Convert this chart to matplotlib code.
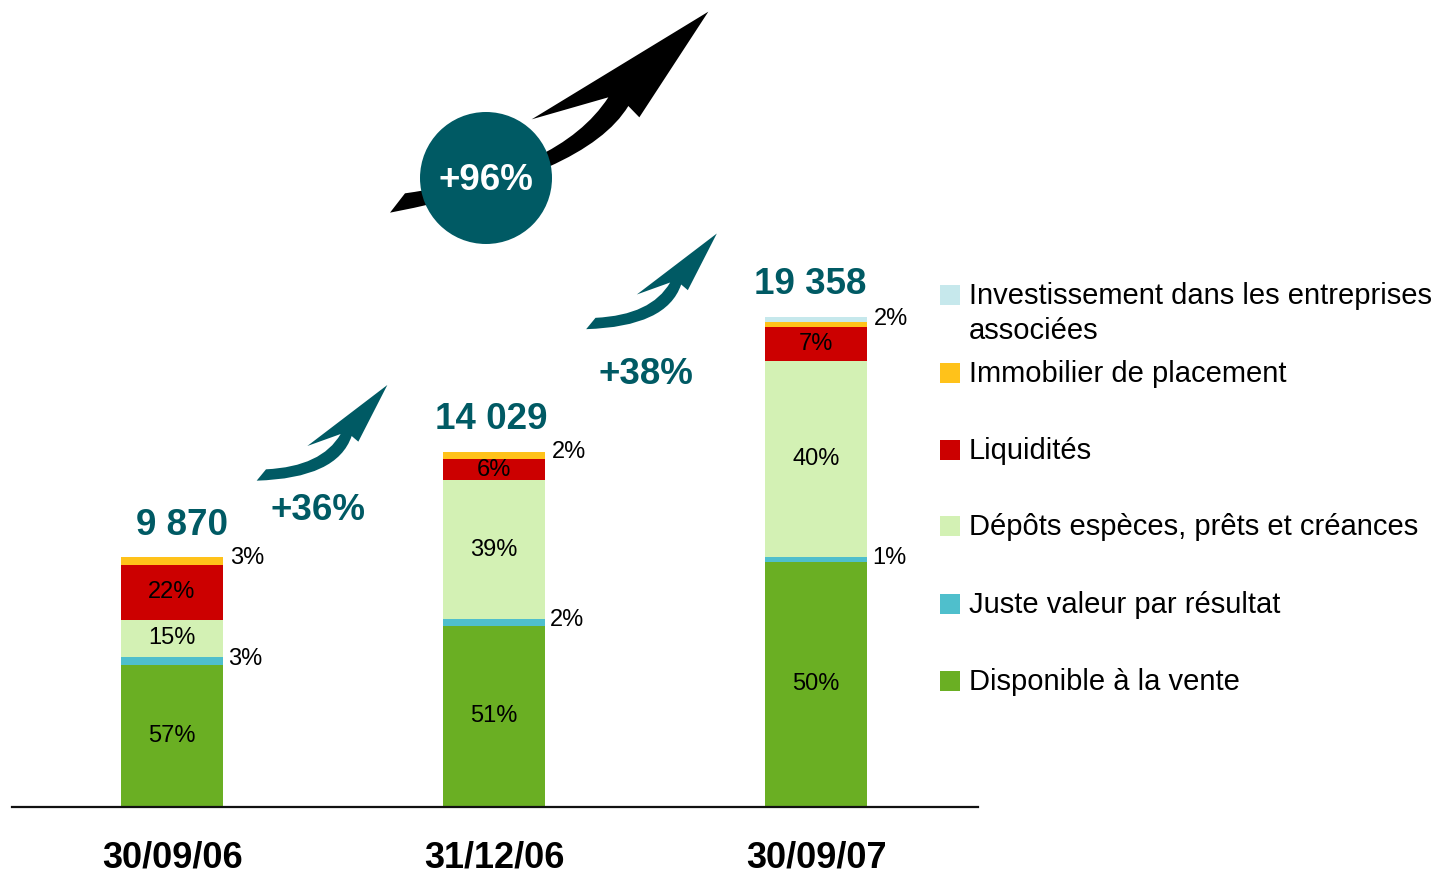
import numpy as np
import matplotlib
matplotlib.use('Agg')
import matplotlib.pyplot as plt
from matplotlib import font_manager
from matplotlib.patches import Circle, Rectangle, PathPatch
from matplotlib.path import Path

plt.rcParams['font.family'] = ['Liberation Sans', 'DejaVu Sans']

# Data
dates = ['30/09/06', '31/12/06', '30/09/07']
totals = [9870, 14029, 19358]
categories = ['Disponible à la vente', 'Juste valeur par résultat',
              'Dépôts espèces, prêts et créances', 'Liquidités',
              'Immobilier de placement',
              'Investissement dans les entreprises\nassociées']
disponible = [57, 51, 50]
juste_valeur = [3, 2, 1]
depots = [15, 39, 40]
liquidites = [22, 6, 7]
immobilier = [3, 2, 1]
investissement = [0, 0, 1]
growth_labels = ['+36%', '+38%']
overall_growth = '+96%'

colors = ['#6AAF23', '#4FBFCC', '#D3F1B4', '#CC0000', '#FFC21A', '#C6E8EC']
teal = '#005A64'

shares = np.array([disponible, juste_valeur, depots, liquidites, immobilier, investissement], dtype=float)
values = shares / 100.0 * np.array(totals)

W, H = 1438, 880
fig = plt.figure(figsize=(W / 100, H / 100), dpi=100)
ax = fig.add_axes([12 / W, 73 / H, 966 / W, 807 / H])

x = np.arange(len(dates))
width = 0.317
bottom = np.zeros(len(dates))
for i in range(len(categories)):
    ax.bar(x, values[i], width, bottom=bottom, color=colors[i], linewidth=0, zorder=2)
    bottom += values[i]

ax.set_xlim(-0.497, 2.503)
ax.set_ylim(0, 31880)

total_dx = [10, -3, -6]
inside = [0, 2, 3]
for j in range(len(dates)):
    cum = np.cumsum(values[:, j])
    starts = cum - values[:, j]
    for i in inside:
        ax.text(x[j], starts[i] + values[i, j] / 2, f'{int(shares[i, j])}%',
                ha='center', va='center', fontsize=17, color='black', zorder=3)
    # juste valeur, outside right
    ax.annotate(f'{int(shares[1, j])}%', (x[j] + width / 2, starts[1] + values[1, j] / 2),
                xytext=(5, 2), textcoords='offset pixels', ha='left', va='center',
                fontsize=17, color='black')
    # top: immobilier + investissement
    top_share = int(shares[4, j] + shares[5, j])
    top_mid = starts[4] + (values[4, j] + values[5, j]) / 2
    ax.annotate(f'{top_share}%', (x[j] + width / 2, top_mid),
                xytext=(7, 3), textcoords='offset pixels', ha='left', va='center',
                fontsize=17, color='black')
    ax.annotate(f'{totals[j]:,}'.replace(',', ' '), (x[j], totals[j]),
                xytext=(total_dx[j], 32), textcoords='offset pixels', ha='center', va='center',
                fontsize=26.5, fontweight='bold', color=teal)

for s in ['top', 'right', 'left']:
    ax.spines[s].set_visible(False)
ax.spines['bottom'].set_linewidth(1.6)
ax.spines['bottom'].set_color('#111111')
ax.set_yticks([])
ax.set_xticks(x)

try:
    font_manager.findfont(font_manager.FontProperties(family='Liberation Sans Narrow'),
                          fallback_to_default=False)
    xfont = dict(family='Liberation Sans Narrow', fontsize=32)
except Exception:
    xfont = dict(family='Liberation Sans', fontsize=26)
ax.set_xticklabels(dates, fontweight='bold', **xfont)
ax.tick_params(axis='x', length=0, pad=24)

# overlay in pixel coords for arrows and legend
ov = fig.add_axes([0, 0, 1, 1], zorder=5)
ov.set_xlim(0, W)
ov.set_ylim(H, 0)
ov.axis('off')
ov.patch.set_alpha(0)

M, L, C, Z = Path.MOVETO, Path.LINETO, Path.CURVE3, Path.CLOSEPOLY


def arrow_path(pts, codes, scale, off):
    pts = np.array(pts, dtype=float) * scale + off
    return Path(pts, codes)


# small teal arrow (local coords, 1/3 scale)
small_pts = [(20, 332), (48, 298), (215, 290), (272, 192), (172, 228), (412, 45),
             (325, 215), (305, 198), (262, 325), (20, 332), (20, 332)]
small_codes = [M, L, C, C, L, L, L, L, C, C, Z]
for off in [(250, 370), (579.5, 218.5)]:
    ov.add_patch(PathPatch(arrow_path(small_pts, small_codes, 1 / 3, off),
                           facecolor=teal, edgecolor='none'))

ov.text(318, 511, growth_labels[0], ha='center', va='center', fontsize=26.5,
        fontweight='bold', color=teal)
ov.text(646, 375, growth_labels[1], ha='center', va='center', fontsize=26.5,
        fontweight='bold', color=teal)

# big black arrow
big_pts = [(30, 638), (75, 580), (540, 515), (685, 292), (455, 358), (985, 35),
           (778, 352), (745, 318), (620, 525), (30, 638), (30, 638)]
big_codes = [M, L, C, C, L, L, L, L, C, C, Z]
ov.add_patch(PathPatch(arrow_path(big_pts, big_codes, 1 / 3, (380, 0)),
                       facecolor='black', edgecolor='none'))
ov.add_patch(Circle((486, 178), 66, facecolor=teal, edgecolor='none'))
ov.text(486, 180, overall_growth, ha='center', va='center', fontsize=26.5,
        fontweight='bold', color='white')

# legend
leg_y = [681, 604, 526, 450, 373, 295]
for i in range(len(categories)):
    ov.add_patch(Rectangle((940, leg_y[i] - 10), 20, 20, facecolor=colors[i], edgecolor='none'))
    ov.text(969, leg_y[i] - 13, categories[i], ha='left', va='top', fontsize=21,
            color='black', linespacing=1.3)

fig.savefig('out.png', dpi=100)
